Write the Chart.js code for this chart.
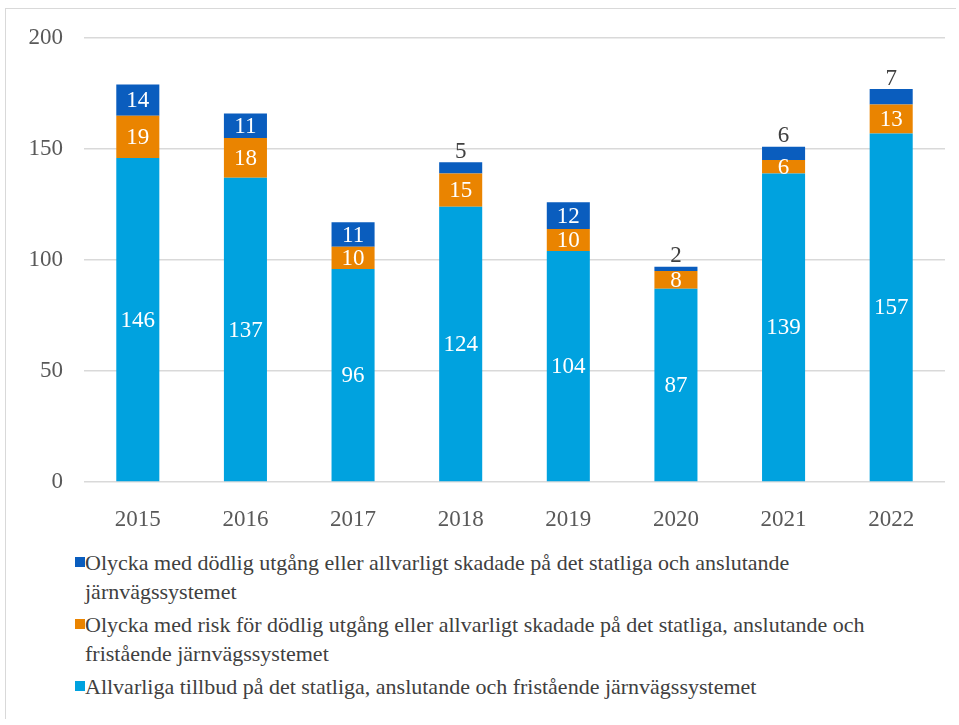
<!DOCTYPE html>
<html>
<head>
<meta charset="utf-8">
<script src="https://cdn.jsdelivr.net/npm/chart.js@4.4.0/dist/chart.umd.min.js"></script>
<style>
  body { margin: 0; padding: 0; background: #fff; font-family: 'Liberation Serif', serif; }
  .frame { position: absolute; left: 5px; top: 8px; width: 950px; height: 710px; border-left: 1px solid #d9d9d9; border-top: 1px solid #d9d9d9; }
  .chart-box { position: absolute; left: 0; top: 0; width: 959px; height: 530px; }
  .legend { position: absolute; left: 75px; top: 548px; width: 830px; color: #404040; font-size: 22px; line-height: 29px; }
  .legend-item { position: relative; padding-left: 10px; margin-bottom: 4px; }
  .swatch { position: absolute; left: 0; top: 9px; width: 10px; height: 10px; }
</style>
</head>
<body>
<div class="frame"></div>
<div class="chart-box"><canvas id="chart" width="959" height="530"></canvas></div>
<div class="legend" id="legend" style="font-family:'Liberation Serif', serif"></div>

<script>
// ---- data ----
const years = ['2015', '2016', '2017', '2018', '2019', '2020', '2021', '2022'];
const tillbud = [146, 137, 96, 124, 104, 87, 139, 157];
const riskOlycka = [19, 18, 10, 15, 10, 8, 6, 13];
const dodligOlycka = [14, 11, 11, 5, 12, 2, 6, 7];
const yTicks = [0, 50, 100, 150, 200];

const labelTillbud = 'Allvarliga tillbud på det statliga, anslutande och fristående järnvägssystemet';
const labelRisk = 'Olycka med risk för dödlig utgång eller allvarligt skadade på det statliga, anslutande och fristående järnvägssystemet';
const labelDodlig = 'Olycka med dödlig utgång eller allvarligt skadade på det statliga och anslutande järnvägssystemet';

const colors = {
  light: '#00A2DF',
  orange: '#EA8400',
  dark: '#0A5DBE'
};
const fontName = "'Liberation Serif', serif";

Chart.defaults.font.family = fontName;

// value labels: white inside segments, small top segments get a dark label above
const valueLabels = {
  id: 'valueLabels',
  afterDatasetsDraw(chart) {
    const ctx = chart.ctx;
    const last = chart.data.datasets.length - 1;
    ctx.save();
    ctx.font = "23px 'Liberation Serif'";
    ctx.textAlign = 'center';
    chart.data.datasets.forEach((ds, di) => {
      const meta = chart.getDatasetMeta(di);
      meta.data.forEach((bar, i) => {
        const v = ds.data[i];
        if (di === last && v < 10) {
          ctx.fillStyle = '#404040';
          ctx.textBaseline = 'bottom';
          ctx.fillText(String(v), bar.x, bar.y + 1);
        } else {
          ctx.fillStyle = '#ffffff';
          ctx.textBaseline = 'middle';
          ctx.fillText(String(v), bar.x, (bar.y + bar.base) / 2 + 1);
        }
      });
    });
    ctx.restore();
  }
};

new Chart(document.getElementById('chart'), {
  type: 'bar',
  data: {
    labels: years,
    datasets: [
      { label: labelTillbud, data: tillbud, backgroundColor: colors.light },
      { label: labelRisk, data: riskOlycka, backgroundColor: colors.orange },
      { label: labelDodlig, data: dodligOlycka, backgroundColor: colors.dark }
    ]
  },
  options: {
    responsive: false,
    animation: false,
    categoryPercentage: 1,
    barPercentage: 0.4,
    layout: { padding: { top: 38, right: 14, left: 0, bottom: 0 } },
    scales: {
      x: {
        stacked: true,
        grid: { display: false },
        border: { display: false },
        ticks: { color: '#595959', font: { family: fontName, size: 23 }, padding: 16 },
        afterFit(scale) { scale.height = 48; }
      },
      y: {
        stacked: true,
        min: 0,
        max: 200,
        afterBuildTicks(scale) { scale.ticks = yTicks.map(v => ({ value: v })); },
        grid: { color: '#d9d9d9', lineWidth: 1.5, drawTicks: false },
        border: { display: false },
        ticks: { color: '#595959', font: { family: fontName, size: 23 }, padding: 21 },
        afterFit(scale) { scale.width = 84; }
      }
    },
    plugins: {
      legend: { display: false },
      tooltip: { enabled: false }
    }
  },
  plugins: [valueLabels]
});

// legend in reverse stack order, wrapped like the original
const legendItems = [
  { color: colors.dark, text: labelDodlig },
  { color: colors.orange, text: labelRisk },
  { color: colors.light, text: labelTillbud }
];
document.getElementById('legend').innerHTML = legendItems.map(it =>
  `<div class="legend-item"><span class="swatch" style="background:${it.color}"></span>${it.text}</div>`
).join('');
</script>
</body>
</html>
